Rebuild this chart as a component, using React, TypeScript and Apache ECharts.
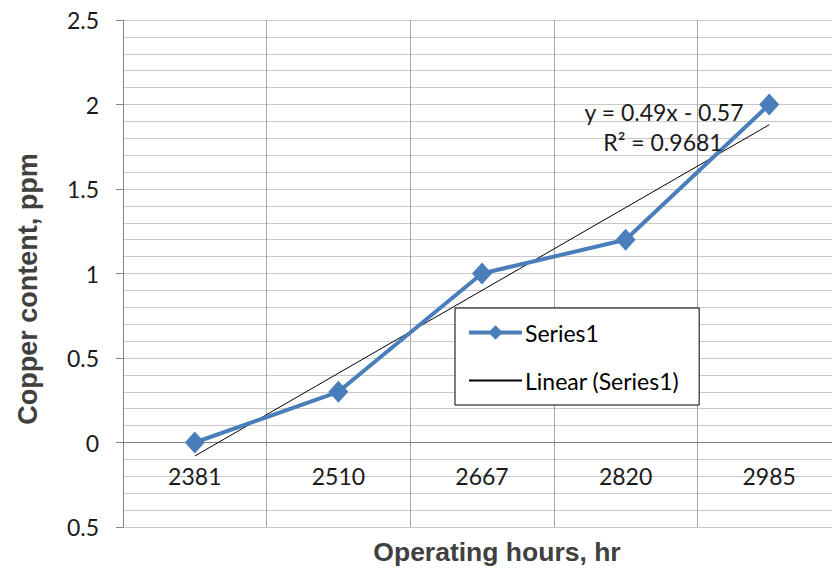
import React, { useEffect, useRef } from "react";
import * as echarts from "echarts";

const categories = ["2381", "2510", "2667", "2820", "2985"];
const series1 = [0, 0.3, 1, 1.2, 2];
const trendValues = [-0.08, 0.41, 0.9, 1.39, 1.88];
const yTickLabels: Record<string, string> = {
  "-0.5": "0.5",
  "0": "0",
  "0.5": "0.5",
  "1": "1",
  "1.5": "1.5",
  "2": "2",
  "2.5": "2.5",
};
const Y_MIN = -0.5;
const Y_MAX = 2.5;
const equationText = "y = 0.49x - 0.57";
const r2Text = "R² = 0.9681";

const LABEL_FONT = "Lato, 'Open Sans', sans-serif";
const TITLE_FONT = "'Liberation Sans', Arial, sans-serif";

const GRID_TOP = 20;
const GRID_HEIGHT = 507;
// x axis sits on y = 0 (category axis drawn with an upward offset from the bottom)
const ZERO_OFFSET = -(GRID_HEIGHT * (0 - Y_MIN)) / (Y_MAX - Y_MIN);

export default function App() {
  const ref = useRef<HTMLDivElement>(null);
  useEffect(() => {
    if (!ref.current) return;
    const chart = echarts.init(ref.current, undefined, { renderer: "svg" });
    chart.setOption({
      animation: false,
      backgroundColor: "#ffffff",
      grid: {
        left: 123,
        top: GRID_TOP,
        width: 718,
        height: GRID_HEIGHT,
        containLabel: false,
        outerBoundsMode: "none",
      },
      legend: {
        orient: "vertical",
        left: 455,
        top: 308,
        data: [
          { name: "Series1", lineStyle: { width: 4 } },
          { name: "Linear (Series1)", itemStyle: { opacity: 0 } },
        ],
        itemWidth: 53,
        itemHeight: 18,
        itemGap: 25,
        padding: [13, 20, 13, 12],
        backgroundColor: "#ffffff",
        borderColor: "#000000",
        borderWidth: 1,
        borderRadius: 0,
        textStyle: { fontFamily: LABEL_FONT, fontSize: 23, color: "#000000", padding: [0, 0, 0, -2] },
      },
      xAxis: {
        type: "category",
        data: categories,
        boundaryGap: true,
        position: "bottom",
        offset: ZERO_OFFSET,
        axisLine: { onZero: false, lineStyle: { color: "#808080", width: 1 } },
        axisTick: { show: false },
        splitLine: { show: true, lineStyle: { color: "#a6a6a6", width: 1 } },
        axisLabel: { margin: 22, fontFamily: LABEL_FONT, fontSize: 23, color: "#1a1a1a" },
      },
      yAxis: {
        type: "value",
        min: Y_MIN,
        max: Y_MAX,
        interval: 0.5,
        axisLine: { show: true, onZero: false, lineStyle: { color: "#868686" } },
        axisTick: { show: true, length: 7, lineStyle: { color: "#868686" } },
        axisLabel: {
          margin: 24,
          fontFamily: LABEL_FONT,
          fontSize: 23,
          color: "#1a1a1a",
          formatter: (v: number) => yTickLabels[String(v)] ?? String(v),
        },
        splitLine: { show: true, lineStyle: { color: "#c8c8c8", width: 1 } },
        minorTick: { show: false, splitNumber: 5 },
        minorSplitLine: { show: true, lineStyle: { color: "#c8c8c8", width: 1 } },
      },
      series: [
        {
          name: "Linear (Series1)",
          type: "line",
          data: trendValues,
          symbol: "none",
          lineStyle: { color: "#000000", width: 1 },
          itemStyle: { color: "#000000" },
          z: 2,
        },
        {
          name: "Series1",
          type: "line",
          data: series1,
          symbol: "diamond",
          symbolSize: [20, 22],
          lineStyle: { color: "#4a7ebb", width: 4 },
          itemStyle: { color: "#4a7ebb" },
          z: 3,
        },
      ],
      graphic: [
        {
          type: "text",
          x: 497,
          y: 552,
          style: {
            text: "Operating hours, hr",
            align: "center",
            verticalAlign: "middle",
            fontFamily: TITLE_FONT,
            fontSize: 26.5,
            fontWeight: "bold",
            fill: "#404040",
          },
        },
        {
          type: "text",
          x: 28,
          y: 289,
          rotation: Math.PI / 2,
          style: {
            text: "Copper content, ppm",
            align: "center",
            verticalAlign: "middle",
            fontFamily: TITLE_FONT,
            fontSize: 27,
            fontWeight: "bold",
            fill: "#404040",
          },
        },
        {
          type: "text",
          x: 664,
          y: 112,
          style: {
            text: equationText,
            align: "center",
            verticalAlign: "middle",
            fontFamily: LABEL_FONT,
            fontSize: 23,
            fill: "#1a1a1a",
          },
          z: 10,
        },
        {
          type: "text",
          x: 663,
          y: 142,
          style: {
            text: r2Text,
            align: "center",
            verticalAlign: "middle",
            fontFamily: LABEL_FONT,
            fontSize: 23,
            fill: "#1a1a1a",
          },
          z: 10,
        },
      ],
    });
    return () => chart.dispose();
  }, []);
  return (
    <div
      ref={ref}
      style={{ position: "fixed", left: 0, top: 0, width: 832, height: 568 }}
    />
  );
}
